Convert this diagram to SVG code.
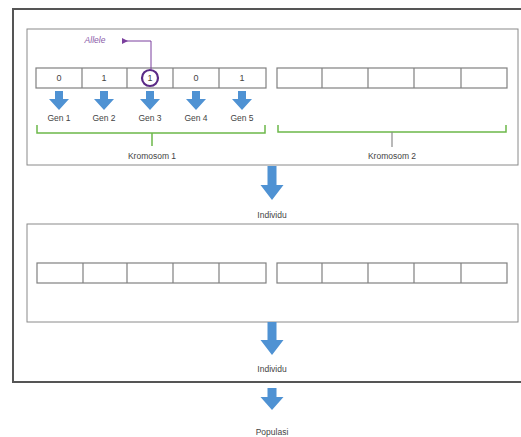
<svg xmlns="http://www.w3.org/2000/svg" width="521" height="437" viewBox="0 0 521 437">
<defs>
<style>
.box{fill:#fff;stroke:#8a8a8a;stroke-width:1}
.outer{fill:#fff;stroke:#555;stroke-width:2}
.cell{fill:#fff;stroke:#808080;stroke-width:1.2}
.t{font-family:"Liberation Sans",Arial,sans-serif;font-size:8.5px;fill:#444;text-anchor:middle}
.v{font-family:"Liberation Sans",Arial,sans-serif;font-size:9px;fill:#444;text-anchor:middle}
.br{fill:none;stroke:#6cb84a;stroke-width:1.5}
.arr{fill:#4f92d3}
</style>
<path id="garr" d="M-4 0 H4 V8 H10 L0 19 L-10 8 H-4 Z"/>
<marker id="ah" markerWidth="6" markerHeight="6" refX="3" refY="3" orient="auto">
<path d="M6 0 L0 3 L6 6 Z" fill="#7b3f9e"/>
</marker>
</defs>
<rect width="521" height="437" fill="#fff"/>
<rect class="outer" x="13" y="9" width="520" height="373"/>

<g id="box1">
<rect class="box" x="27" y="29" width="491" height="136"/>
</g>

<g id="kromosom1">
<rect class="cell" x="36" y="68" width="230" height="20"/>
<path class="cell" d="M82 68V88M127 68V88M173 68V88M219 68V88"/>
<text class="v" x="59" y="81">0</text>
<text class="v" x="104" y="81">1</text>
<text class="v" x="150" y="81">1</text>
<text class="v" x="196" y="81">0</text>
<text class="v" x="242" y="81">1</text>
<circle cx="150" cy="78" r="8" fill="none" stroke="#5a2a86" stroke-width="2.2"/>
</g>

<g id="allele">
<text x="95" y="43" class="t" style="fill:#8a5aa8;font-style:italic">Allele</text>
</g>

<g id="kromosom2">
<rect class="cell" x="277" y="68" width="230" height="20"/>
<path class="cell" d="M322 68V88M368 68V88M414 68V88M461 68V88"/>
</g>

<g id="gens" class="arr">
<use href="#garr" x="59" y="91"/>
<use href="#garr" x="104" y="91"/>
<use href="#garr" x="150" y="91"/>
<use href="#garr" x="196" y="91"/>
<use href="#garr" x="242" y="91"/>
</g>
<g id="genlabels">
<text class="t" x="59" y="121">Gen 1</text>
<text class="t" x="104" y="121">Gen 2</text>
<text class="t" x="150" y="121">Gen 3</text>
<text class="t" x="196" y="121">Gen 4</text>
<text class="t" x="242" y="121">Gen 5</text>
</g>

<g id="brackets">
<path class="br" d="M37 125V133H265V125M152 133V146"/>
<path class="br" d="M278 125V132H506V125"/>
<path d="M392 132V147" fill="none" stroke="#8a8a8a" stroke-width="1.2"/>
<text class="t" x="152" y="159">Kromosom 1</text>
<text class="t" x="392" y="159">Kromosom 2</text>
</g>

<g id="box2">
<rect class="box" x="27" y="224" width="491" height="98"/>
<rect class="cell" x="37" y="263" width="229" height="20"/>
<path class="cell" d="M83 263V283M127 263V283M173 263V283M219 263V283"/>
<rect class="cell" x="277" y="263" width="230" height="20"/>
<path class="cell" d="M322 263V283M368 263V283M414 263V283M461 263V283"/>
</g>

<g id="connectors">
<path d="M151 70V41H125" fill="none" stroke="#7b3f9e" stroke-width="1" marker-end="url(#ah)"/>
<g class="arr">
<path d="M267.5 166H276.5V185H283.5L272 200L260.5 185H267.5Z"/>
<path d="M267.5 322H276.5V340H283.5L272 355L260.5 340H267.5Z"/>
<path d="M267.5 388H276.5V397H283.5L272 410L260.5 397H267.5Z"/>
</g>
</g>

<g id="labels">
<text class="t" x="272" y="218">Individu</text>
<text class="t" x="272" y="372">Individu</text>
<text class="t" x="272" y="435">Populasi</text>
</g>
</svg>
